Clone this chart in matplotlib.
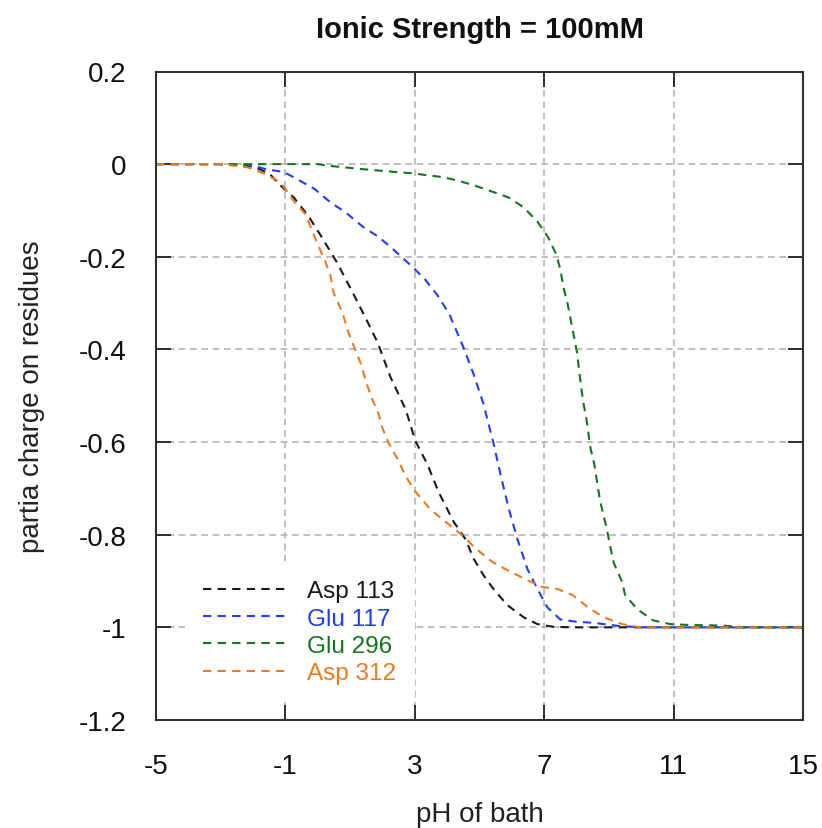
import matplotlib
matplotlib.use("Agg")
import matplotlib.pyplot as plt

plt.rcParams['font.family'] = ['Liberation Sans', 'DejaVu Sans']

# Titration curves: partial charge vs bath pH
asp113_ph = [-5, -3, -2, -1.5, -1.2, -0.74, -0.28, 0.1, 0.6, 1.1, 1.5, 1.85, 2.25, 2.72,
             3.02, 3.39, 3.73, 4.2, 4.57, 4.82, 5.12, 5.43, 5.86, 6.36, 6.79, 7.3, 8, 15]
asp113_q = [0, 0, -0.005, -0.02, -0.043, -0.072, -0.113, -0.155, -0.213, -0.28, -0.335,
            -0.385, -0.46, -0.53, -0.598, -0.648, -0.707, -0.772, -0.81, -0.852, -0.887,
            -0.917, -0.952, -0.978, -0.993, -0.999, -1, -1]

glu117_ph = [-5, -3, -2, -1.6, -1.05, -0.62, -0.09, 0.4, 0.86, 1.39, 1.88, 2.35, 2.93, 3.33,
             3.7, 4.07, 4.5, 4.81, 5.12, 5.43, 5.65, 5.9, 6.17, 6.48, 6.79, 7.1, 7.5, 8.0,
             8.5, 9.3, 10, 15]
glu117_q = [0, 0, -0.003, -0.011, -0.017, -0.033, -0.054, -0.083, -0.104, -0.135, -0.157,
            -0.185, -0.222, -0.25, -0.283, -0.324, -0.395, -0.452, -0.517, -0.602, -0.67,
            -0.743, -0.809, -0.874, -0.917, -0.957, -0.983, -0.988, -0.99, -0.997, -1, -1]

glu296_ph = [-5, 0, 0.4, 1.42, 2.41, 2.96, 3.39, 3.86, 4.3, 4.8, 5.34, 5.9, 6.36, 6.79, 7.13,
             7.38, 7.5, 7.6, 7.72, 7.9, 8.02, 8.09, 8.2, 8.3, 8.43, 8.55, 8.64, 8.73, 8.83,
             8.95, 9.14, 9.41, 9.5, 9.88, 10.37, 10.9, 11.5, 12.5, 13.2, 15]
glu296_q = [0, 0, -0.004, -0.011, -0.017, -0.02, -0.024, -0.028, -0.035, -0.045, -0.058,
            -0.072, -0.093, -0.124, -0.159, -0.196, -0.228, -0.267, -0.3, -0.365, -0.409,
            -0.452, -0.511, -0.548, -0.613, -0.648, -0.689, -0.728, -0.757, -0.793, -0.859,
            -0.902, -0.93, -0.961, -0.985, -0.993, -0.995, -0.996, -1, -1]

asp312_ph = [-5, -3, -2.16, -1.6, -1.14, -0.74, -0.37, -0.15, 0.03, 0.25, 0.4, 0.49, 0.77,
             0.93, 1.08, 1.33, 1.48, 1.64, 1.88, 2.0, 2.19, 2.47, 2.72, 3.02, 3.49, 3.95,
             4.41, 4.94, 5.4, 5.96, 6.48, 6.94, 7.41, 7.87, 8.36, 8.83, 9.41, 9.97, 15]
asp312_q = [0, 0, -0.007, -0.022, -0.04, -0.08, -0.109, -0.148, -0.178, -0.213, -0.243,
            -0.278, -0.322, -0.36, -0.387, -0.43, -0.467, -0.5, -0.539, -0.57, -0.602,
            -0.637, -0.674, -0.707, -0.746, -0.772, -0.798, -0.833, -0.859, -0.88, -0.898,
            -0.913, -0.917, -0.93, -0.957, -0.978, -0.993, -1.0, -1]

series = [
    ("Asp 113", asp113_ph, asp113_q, "#1a1a1a"),
    ("Glu 117", glu117_ph, glu117_q, "#1f3cff"),
    ("Glu 296", glu296_ph, glu296_q, "#16731f"),
    ("Asp 312", asp312_ph, asp312_q, "#ec7a22"),
]

x_ticks = [-5, -1, 3, 7, 11, 15]
y_ticks = [0.2, 0, -0.2, -0.4, -0.6, -0.8, -1, -1.2]
y_tick_labels = ["0.2", "0", "-0.2", "-0.4", "-0.6", "-0.8", "-1", "-1.2"]

fig = plt.figure(figsize=(8.22, 8.29), dpi=100)
ax = fig.add_axes([156 / 822, 1 - 721 / 829, 647 / 822, 648.5 / 829])

for name, xs, ys, col in series:
    ax.plot(xs, ys, color=col, lw=1.5, linestyle=(0, (4.0, 3.0)), label=name)

ax.set_xlim(-5, 15)
ax.set_ylim(-1.2, 0.2)
ax.set_xticks(x_ticks)
ax.set_xticklabels([str(v) for v in x_ticks])
ax.set_yticks(y_ticks)
ax.set_yticklabels(y_tick_labels)

ax.set_axisbelow(True)
ax.grid(True, color="#b4b4b4", lw=1.2, linestyle=(0, (4, 2.8)))

for sp in ax.spines.values():
    sp.set_linewidth(1.5)
    sp.set_color("#303030")

ax.tick_params(axis="both", direction="in", length=11, width=1.3, color="#202020",
               top=True, right=True, labelsize=20, labelcolor="#111111")
ax.tick_params(axis="y", pad=21)
ax.tick_params(axis="x", pad=24)

ax.set_title("Ionic Strength = 100mM", fontsize=21, fontweight="bold", pad=25,
             color="#111111")
ax.set_xlabel("pH of bath", fontsize=20, color="#222222")
ax.set_ylabel("partia charge on residues", fontsize=20, color="#222222", va="center")
ax.xaxis.set_label_coords(0.5, -0.125)
ax.yaxis.set_label_coords(-0.192, 0.5)

leg = ax.legend(loc="lower left", bbox_to_anchor=(0.045, 0.027), borderaxespad=0,
                fontsize=17.5, handlelength=3.5, handletextpad=0.78, labelspacing=0.22,
                borderpad=0.75, frameon=True, fancybox=False, framealpha=1.0,
                edgecolor="none", facecolor="white")
for txt, (_, _, _, col) in zip(leg.get_texts(), series):
    txt.set_color(col)

fig.savefig("out.png", dpi=100)
